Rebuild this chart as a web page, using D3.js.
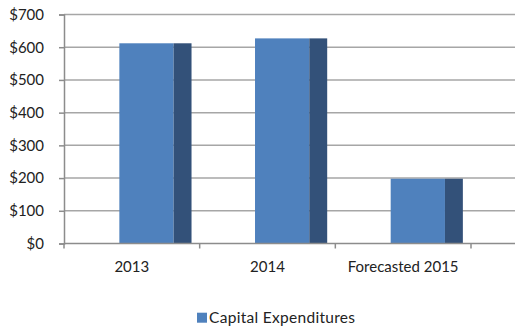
<!DOCTYPE html>
<html>
<head>
<meta charset="utf-8">
<script src="https://cdn.jsdelivr.net/npm/d3@7"></script>
<style>
  body { margin: 0; background: #fff; }
  svg { display: block; }
  text { font-family: Lato, "Open Sans", sans-serif; fill: #222; }
</style>
</head>
<body>
<div id="chart"></div>
<script>
// chart data
const categories = ['2013', '2014', 'Forecasted 2015'];
const capex = [612, 627, 198];
const yTicks = [0, 100, 200, 300, 400, 500, 600, 700];
const seriesName = 'Capital Expenditures';

const width = 515;
const height = 330;
const plotLeft = 64, plotTop = 14.5, plotBottom = 243.5, axisRight = 471;

const svg = d3.select('#chart')
  .append('svg')
  .attr('width', width)
  .attr('height', height);

const x = d3.scaleBand()
  .domain(categories)
  .range([plotLeft, axisRight]);

const y = d3.scaleLinear()
  .domain([0, 700])
  .range([plotBottom, plotTop]);

// gridlines
svg.append('g')
  .selectAll('line')
  .data(yTicks.filter(d => d > 0))
  .join('line')
  .attr('x1', plotLeft)
  .attr('x2', width)
  .attr('y1', d => y(d))
  .attr('y2', d => y(d))
  .attr('stroke', '#a6a6a6')
  .attr('stroke-width', 1.5);

// y axis
const yAxis = svg.append('g')
  .attr('transform', `translate(${plotLeft},0)`)
  .call(d3.axisLeft(y).tickValues(yTicks).tickSize(5).tickPadding(15).tickFormat(d => '$' + d));
yAxis.select('.domain').attr('stroke', '#8c8c8c').attr('stroke-width', 1.5);
yAxis.selectAll('.tick line').attr('stroke', '#8c8c8c').attr('stroke-width', 1.5);
yAxis.selectAll('.tick text')
  .style('font-size', '15px')
  .style('font-family', 'Lato, sans-serif')
  .attr('fill', '#222');

// bars: front face and darker side face
const bw = x.bandwidth();
const bars = svg.append('g')
  .selectAll('g')
  .data(categories.map((c, i) => ({ c, v: capex[i] })))
  .join('g');

bars.append('rect')
  .attr('x', d => x(d.c) + bw * 0.408)
  .attr('y', d => y(d.v))
  .attr('width', bw * 0.4)
  .attr('height', d => y(0) - y(d.v))
  .attr('fill', '#4f81bd');

bars.append('rect')
  .attr('x', d => x(d.c) + bw * 0.808)
  .attr('y', d => y(d.v))
  .attr('width', bw * 0.132)
  .attr('height', d => y(0) - y(d.v))
  .attr('fill', '#335179');

// x axis
svg.append('line')
  .attr('x1', plotLeft)
  .attr('x2', width)
  .attr('y1', plotBottom)
  .attr('y2', plotBottom)
  .attr('stroke', '#8c8c8c')
  .attr('stroke-width', 1.5);

svg.append('g')
  .selectAll('line')
  .data(categories.concat(['end']))
  .join('line')
  .attr('x1', (d, i) => plotLeft + i * bw)
  .attr('x2', (d, i) => plotLeft + i * bw)
  .attr('y1', plotBottom)
  .attr('y2', plotBottom + 5)
  .attr('stroke', '#8c8c8c')
  .attr('stroke-width', 1.5);

svg.append('g')
  .selectAll('text')
  .data(categories)
  .join('text')
  .attr('x', d => x(d) + bw / 2)
  .attr('y', 271.5)
  .attr('text-anchor', 'middle')
  .style('font-size', '15px')
  .text(d => d);

// legend
const legend = svg.append('g').attr('transform', 'translate(197,312.7)');
legend.append('rect')
  .attr('width', 10)
  .attr('height', 10)
  .attr('fill', '#4f81bd');
legend.append('text')
  .attr('x', 12)
  .attr('y', 10)
  .attr('textLength', 146)
  .style('font-size', '15.5px')
  .text(seriesName);
</script>
</body>
</html>
